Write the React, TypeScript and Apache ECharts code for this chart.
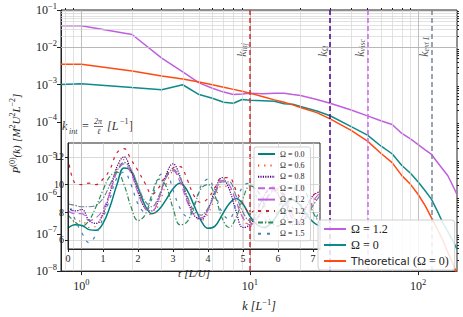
import React, { useEffect, useRef } from "react";
import * as echarts from "echarts";

// ---------- main spectrum data ----------
const kValues = [0.757, 1, 2, 3, 4, 5, 6, 7, 8, 9, 10, 12, 14, 16, 18, 20, 25, 30, 40, 50, 60, 70, 80, 90, 100, 110, 120, 130, 140, 150, 160, 170];
const spectrumOmega12 = [3.8e-2, 3.8e-2, 2.2e-2, 5.1e-3, 2.2e-3, 1.11e-3, 8.0e-4, 6.3e-4, 5.4e-4, 5.6e-4, 5.9e-4, 5.7e-4, 5.9e-4, 5.9e-4, 5.4e-4, 5.1e-4, 4.0e-4, 3.16e-4, 2.08e-4, 1.45e-4, 1.07e-4, 8.5e-5, 4.9e-5, 3.5e-5, 2.46e-5, 1.78e-5, 1.34e-5, 8.3e-6, 5.4e-6, 3.6e-6, 2.0e-6, 1.13e-6];
const spectrumOmega0 = [1.0e-3, 1.05e-3, 8.3e-4, 7.3e-4, 9.9e-4, 5.4e-4, 4.3e-4, 3.36e-4, 3.16e-4, 4.0e-4, 3.8e-4, 3.7e-4, 3.56e-4, 3.07e-4, 2.98e-4, 2.58e-4, 1.96e-4, 1.46e-4, 7.5e-5, 4.4e-5, 2.26e-5, 1.4e-5, 6.8e-6, 4.2e-6, 2.46e-6, 1.43e-6, 8.4e-7, 4.07e-7, 1.98e-7, 1.15e-7, 6.7e-8, 3.9e-8];
const spectrumTheory = [3.5e-3, 3.5e-3, 2.3e-3, 1.71e-3, 1.42e-3, 1.17e-3, 9.9e-4, 8.5e-4, 7.45e-4, 6.65e-4, 5.9e-4, 4.75e-4, 3.9e-4, 3.36e-4, 2.86e-4, 2.44e-4, 1.77e-4, 1.21e-4, 5.9e-5, 3.05e-5, 1.44e-5, 8.1e-6, 3.63e-6, 2.12e-6, 1.13e-6, 5.66e-7, 2.67e-7, 1.34e-7, 6.7e-8, 3.18e-8, 1.64e-8, 8.3e-9];

const xMin = 0.757;
const xMax = 170;
const yMin = 1e-8;
const yMax = 1e-1;
const majorX = [1, 10, 100];
const minorX = [0.8, 0.9, 2, 3, 4, 5, 6, 7, 8, 9, 20, 30, 40, 50, 60, 70, 80, 90];
const majorY = [1e-8, 1e-7, 1e-6, 1e-5, 1e-4, 1e-3, 1e-2, 1e-1];

// characteristic wavenumbers
const markerNames = ["inj", "Ω", "visc", "ext L"];
const markerK = [10, 30, 50, 120];
const markerColors = ["#d03030", "#4b0082", "#cc66ee", "#778899"];
const markerLabelP = 5.6e-3;

// ---------- inset time series ----------
const tValues = [0, 0.2, 0.4, 0.6, 0.8, 1.0, 1.2, 1.4, 1.6, 1.8, 2.0, 2.2, 2.4, 2.6, 2.8, 3.0, 3.2, 3.4, 3.6, 3.8, 4.0, 4.2, 4.4, 4.6, 4.8, 5.0, 5.2, 5.4, 5.6, 5.8, 6.0, 6.2, 6.4, 6.6, 6.8, 7.0, 7.2];
const insetNames = ["Ω = 0.0", "Ω = 0.6", "Ω = 0.8", "Ω = 1.0", "Ω = 1.2", "Ω = 1.2 ", "Ω = 1.3", "Ω = 1.5"];
const insetOmega00 = [6.85, 7.1, 7.05, 6.75, 6.7, 7.2, 8.4, 10.0, 11.2, 11.0, 9.8, 8.5, 7.9, 8.2, 8.9, 9.7, 10.1, 9.6, 8.5, 7.4, 6.85, 7.0, 7.8, 8.6, 9.0, 8.6, 7.7, 7.1, 6.9, 7.2, 7.9, 8.6, 8.9, 8.6, 7.9, 7.3, 7.0];
const insetOmega06 = [7.6, 7.3, 7.4, 6.9, 7.0, 7.9, 9.6, 11.2, 11.8, 11.1, 9.6, 8.3, 7.8, 8.6, 10.0, 10.9, 10.5, 9.1, 7.9, 7.4, 7.9, 9.0, 9.9, 9.8, 8.8, 7.6, 7.0, 7.4, 8.5, 9.4, 9.5, 8.6, 7.5, 7.1, 7.7, 8.7, 9.3];
const insetOmega08 = [8.3, 8.1, 8.2, 7.4, 7.2, 7.9, 9.4, 11.3, 12.0, 11.0, 9.5, 8.3, 8.1, 9.0, 10.7, 11.5, 10.6, 9.0, 7.8, 7.5, 8.2, 9.6, 10.5, 9.7, 8.1, 6.9, 7.1, 8.0, 9.2, 9.8, 9.3, 8.0, 7.1, 7.3, 8.3, 9.2, 9.5];
const insetOmega10 = [8.1, 7.9, 7.9, 7.4, 7.6, 8.2, 9.4, 10.9, 11.5, 10.8, 9.4, 8.3, 8.1, 9.0, 10.5, 11.0, 10.2, 8.8, 7.8, 7.6, 8.2, 9.4, 10.3, 10.0, 8.8, 7.6, 7.1, 7.5, 8.6, 9.5, 9.6, 8.7, 7.6, 7.2, 7.7, 8.8, 9.4];
const insetOmega12a = [8.6, 8.5, 8.4, 8.4, 8.5, 9.0, 10.0, 11.0, 11.6, 11.1, 9.9, 8.8, 8.4, 9.2, 10.5, 11.1, 10.5, 9.2, 8.1, 7.8, 8.3, 9.3, 10.2, 10.2, 9.2, 8.0, 7.4, 7.6, 8.5, 9.4, 9.7, 9.0, 7.9, 7.3, 7.6, 8.5, 9.2];
const insetOmega12b = [12.0, 10.1, 10.0, 10.1, 10.0, 10.4, 11.1, 12.3, 12.6, 11.8, 11.0, 10.1, 9.3, 9.8, 10.7, 11.2, 11.3, 10.4, 9.2, 8.7, 9.0, 9.8, 10.5, 10.5, 9.6, 8.6, 8.0, 8.3, 9.1, 9.8, 9.9, 9.2, 8.4, 8.0, 8.4, 9.2, 9.6];
const insetOmega13 = [7.8, 7.3, 7.0, 7.4, 8.4, 9.6, 10.6, 10.9, 10.0, 8.4, 7.4, 7.8, 9.3, 10.4, 9.9, 8.3, 7.1, 7.3, 8.4, 9.7, 10.0, 9.2, 7.6, 6.9, 7.6, 9.0, 9.9, 9.6, 8.6, 7.3, 7.0, 7.8, 9.2, 10.0, 9.4, 8.0, 7.2];
const insetOmega15 = [8.9, 7.5, 6.5, 5.8, 6.4, 7.6, 9.0, 10.5, 10.9, 10.0, 8.6, 8.0, 9.0, 10.6, 10.9, 9.6, 8.3, 7.7, 8.5, 9.9, 10.4, 9.4, 8.0, 7.5, 8.6, 9.9, 10.1, 9.0, 7.6, 7.2, 8.2, 9.5, 9.9, 9.0, 7.7, 7.4, 8.3];
const insetSeries = [insetOmega00, insetOmega06, insetOmega08, insetOmega10, insetOmega12a, insetOmega12b, insetOmega13, insetOmega15];
const insetColors = ["#008080", "#ff4500", "#4b0082", "#c060e0", "#708090", "#d02030", "#2e8b57", "#4682b4"];
const insetDash: (string | number[])[] = ["solid", [1.2, 5], [1.2, 1.2], [7, 4], [6, 1.5, 1.5, 1.5], [3, 5], [5, 2, 1.2, 2], [3, 6]];
const insetXTicks = [0, 1, 2, 3, 4, 5, 6, 7];
const insetYTicks = [6, 8, 10, 12];
const insetXMin = 0;
const insetXMax = 7.2;
const insetYMin = 5.35;
const insetYMax = 13;

const SERIF = "'Liberation Serif', 'DejaVu Serif', serif";
const SANS = "'DejaVu Sans', 'Liberation Sans', sans-serif";

function powLabel(v: number) {
  const e = Math.round(Math.log10(v));
  return "{b|10}{s|" + (e < 0 ? "−" + -e : String(e)) + "}";
}
const powRich = {
  b: { fontFamily: SERIF, fontSize: 12, color: "#222" },
  s: { fontFamily: SERIF, fontSize: 8.5, color: "#222", padding: [0, 0, 9, 0] },
};

export default function App() {
  const ref = useRef<HTMLDivElement>(null);
  useEffect(() => {
    if (!ref.current) return;
    const chart = echarts.init(ref.current, undefined, { renderer: "svg" });

    const mainPairs = (vals: number[]) => kValues.map((k, i) => [k, vals[i]]);
    const gridLineData: any[] = [];
    minorX.filter((v) => v > xMin && v < xMax).forEach((v) => gridLineData.push({ xAxis: v, lineStyle: { color: "#d6d6d6", width: 0.7, type: "solid", opacity: 1 } }));
    majorY.forEach((v, i) => {
      if (i < majorY.length - 1) {
        for (let m = 2; m <= 9; m++) gridLineData.push({ yAxis: v * m, lineStyle: { color: "#d6d6d6", width: 0.7, type: "solid", opacity: 1 } });
      }
    });
    majorX.forEach((v) => gridLineData.push({ xAxis: v, lineStyle: { color: "#b0b0b0", width: 0.8, type: "solid", opacity: 1 } }));
    majorY.slice(1, -1).forEach((v) => gridLineData.push({ yAxis: v, lineStyle: { color: "#b0b0b0", width: 0.8, type: "solid", opacity: 1 } }));
    const minorYTicks: number[] = [];
    majorY.slice(0, -1).forEach((v) => { for (let m = 2; m <= 9; m++) minorYTicks.push(v * m); });

    const insetGridLines: any[] = [];
    insetXTicks.slice(1).forEach((v) => insetGridLines.push({ xAxis: v }));
    insetYTicks.forEach((v) => insetGridLines.push({ yAxis: v }));

    const markerLabels = markerNames.map((n, i) => ({
      value: [markerK[i], markerLabelP],
      label: {
        show: true,
        position: [-1, 0],
        rotate: 90,
        align: "left",
        verticalAlign: "bottom",
        formatter: "{k|k}{sub|" + n + "}",
        rich: {
          k: { fontFamily: SERIF, fontStyle: "italic", fontSize: 12, color: "#333" },
          sub: { fontFamily: SERIF, fontStyle: "italic", fontSize: 8, color: "#333", padding: [5, 0, 0, 0] },
        },
      },
    }));

    const legendIconOff = { opacity: 0 };

    const option: any = {
      animation: false,
      backgroundColor: "#fff",
      grid: [
        { left: 49, top: 10, right: 6, bottom: 38, show: true, borderColor: "#222", borderWidth: 1, z: 0 },
        { left: 68, top: 143, width: 252, height: 106, show: true, backgroundColor: "#fff", borderColor: "#222", borderWidth: 1, z: 5 },
      ],
      xAxis: [
        {
          type: "log", gridIndex: 0, min: xMin, max: xMax, logBase: 10,
          axisLine: { show: true, onZero: false, lineStyle: { color: "#222" } },
          axisTick: { show: true, inside: false, length: 4, customValues: majorX, lineStyle: { color: "#222" } },
          axisLabel: { show: true, customValues: majorX, formatter: powLabel, rich: powRich, margin: 6 },
          splitLine: { show: false },
          name: "{k|k} {t|[L}{s|−1}{t|]}", nameLocation: "middle", nameGap: 22,
          nameTextStyle: {
            rich: {
              k: { fontFamily: SERIF, fontStyle: "italic", fontSize: 12, color: "#222" },
              t: { fontFamily: SERIF, fontStyle: "italic", fontSize: 12, color: "#222" },
              s: { fontFamily: SERIF, fontSize: 8.5, color: "#222", padding: [0, 0, 9, 0] },
            },
          },
        },
        {
          type: "log", gridIndex: 0, min: xMin, max: xMax, logBase: 10,
          axisLine: { show: false },
          axisTick: { show: true, inside: false, length: 2, customValues: minorX, lineStyle: { color: "#222" } },
          axisLabel: { show: false },
          splitLine: { show: false },
        },
        {
          type: "value", gridIndex: 1, min: insetXMin, max: insetXMax, z: 8,
          axisLine: { show: true, onZero: false, lineStyle: { color: "#222" } },
          axisTick: { show: true, length: 3, customValues: insetXTicks, lineStyle: { color: "#222" } },
          axisLabel: { show: true, customValues: insetXTicks, fontFamily: SERIF, fontSize: 10, color: "#222", margin: 4 },
          splitLine: { show: false },
          name: "{t|t} {u|[L/U]}", nameLocation: "middle", nameGap: 18,
          nameTextStyle: {
            rich: {
              t: { fontFamily: SERIF, fontStyle: "italic", fontSize: 11, color: "#222" },
              u: { fontFamily: SERIF, fontStyle: "italic", fontSize: 11, color: "#222" },
            },
          },
        },
      ],
      yAxis: [
        {
          type: "log", gridIndex: 0, min: yMin, max: yMax, logBase: 10,
          axisLine: { show: true, onZero: false, lineStyle: { color: "#222" } },
          axisTick: { show: true, length: 4, customValues: majorY, lineStyle: { color: "#222" } },
          axisLabel: { show: true, customValues: majorY, formatter: powLabel, rich: powRich, margin: 4 },
          splitLine: { show: false },
          name: "{p|P}{s|(0)}{p|(k)} {p|[M}{s|2}{p|U}{s|2}{p|L}{s|−2}{p|]}",
          nameLocation: "middle", nameRotate: 90, nameGap: 37,
          nameTextStyle: {
            padding: [0, 0, 0, 14],
            rich: {
              p: { fontFamily: SERIF, fontStyle: "italic", fontSize: 11, color: "#222" },
              s: { fontFamily: SERIF, fontSize: 8, color: "#222", padding: [0, 0, 8, 0] },
            },
          },
        },
        {
          type: "log", gridIndex: 0, min: yMin, max: yMax, logBase: 10,
          axisLine: { show: false },
          axisTick: { show: true, length: 2, customValues: minorYTicks, lineStyle: { color: "#222" } },
          axisLabel: { show: false },
          splitLine: { show: false },
        },
        {
          type: "value", gridIndex: 1, min: insetYMin, max: insetYMax, z: 8,
          axisLine: { show: true, onZero: false, lineStyle: { color: "#222" } },
          axisTick: { show: true, length: 3, customValues: insetYTicks, lineStyle: { color: "#222" } },
          axisLabel: { show: true, customValues: insetYTicks, fontFamily: SERIF, fontSize: 10, color: "#222", margin: 4 },
          splitLine: { show: false },
        },
      ],
      legend: [
        {
          data: ["Ω = 1.2", "Ω = 0", "Theoretical"],
          orient: "vertical", left: 318, top: 220, itemWidth: 22, itemHeight: 12, itemGap: 4,
          padding: [3, 6, 3, 5],
          backgroundColor: "rgba(255,255,255,0.85)", borderColor: "#d0d0d0", borderWidth: 1, borderRadius: 3,
          z: 20, itemStyle: legendIconOff,
          formatter: (name: string) => (name === "Theoretical" ? "{a|Theoretical} {m|(Ω = 0)}" : "{m|" + name + "}"),
          textStyle: {
            rich: {
              a: { fontFamily: SANS, fontSize: 10.5, color: "#222" },
              m: { fontFamily: SERIF, fontSize: 12, color: "#222" },
            },
          },
        },
        {
          data: insetNames,
          orient: "vertical", left: 254, top: 147, itemWidth: 17, itemHeight: 8, itemGap: 3.4,
          padding: [3, 4, 3, 3],
          backgroundColor: "rgba(255,255,255,0.8)", borderColor: "#d0d0d0", borderWidth: 1, borderRadius: 2,
          z: 15, itemStyle: legendIconOff,
          textStyle: { fontFamily: SERIF, fontSize: 8, color: "#222" },
        },
      ],
      graphic: [
        {
          type: "group", left: 62, top: 117, z: 4,
          children: [
            { type: "text", x: 0, y: 3, style: { text: "k", font: "italic 12px " + SERIF, fill: "#333" } },
            { type: "text", x: 7, y: 10, style: { text: "int", font: "italic 8px " + SERIF, fill: "#333" } },
            { type: "text", x: 20, y: 3, style: { text: "=", font: "12px " + SERIF, fill: "#333" } },
            { type: "text", x: 32, y: 0, style: { text: "2π", font: "italic 8px " + SERIF, fill: "#333" } },
            { type: "line", shape: { x1: 32, y1: 9.5, x2: 41, y2: 9.5 }, style: { stroke: "#333", lineWidth: 0.7 } },
            { type: "text", x: 35, y: 10, style: { text: "ℓ", font: "italic 8px " + SERIF, fill: "#333" } },
            { type: "text", x: 45, y: 3, style: { text: "[L", font: "italic 12px " + SERIF, fill: "#333" } },
            { type: "text", x: 58, y: 0, style: { text: "−1", font: "8px " + SERIF, fill: "#333" } },
            { type: "text", x: 67, y: 3, style: { text: "]", font: "12px " + SERIF, fill: "#333" } },
          ],
        },
      ],
      series: [
        {
          type: "line", xAxisIndex: 0, yAxisIndex: 0, data: [[1, 1e-3]], symbol: "none", silent: true, z: 1,
          markLine: { silent: true, symbol: "none", label: { show: false }, data: gridLineData, animation: false },
        },
        { name: "Ω = 1.2", type: "line", xAxisIndex: 0, yAxisIndex: 0, data: mainPairs(spectrumOmega12), symbol: "none", lineStyle: { color: "#bf5fdf", width: 1.5 }, itemStyle: { color: "#bf5fdf" }, z: 2 },
        { name: "Ω = 0", type: "line", xAxisIndex: 0, yAxisIndex: 0, data: mainPairs(spectrumOmega0), symbol: "none", lineStyle: { color: "#0e8a8a", width: 1.5 }, itemStyle: { color: "#0e8a8a" }, z: 2 },
        { name: "Theoretical", type: "line", xAxisIndex: 0, yAxisIndex: 0, data: mainPairs(spectrumTheory), symbol: "none", lineStyle: { color: "#ff4a10", width: 1.5 }, itemStyle: { color: "#ff4a10" }, z: 2 },
        {
          type: "scatter", xAxisIndex: 0, yAxisIndex: 0, symbolSize: 0, silent: true, z: 3,
          data: markerLabels,
          markLine: {
            silent: true, symbol: "none", label: { show: false },
            data: markerK.map((k, i) => ({ xAxis: k, lineStyle: { color: markerColors[i], width: 1.5, type: [5, 3] } })),
          },
        },
        {
          type: "line", xAxisIndex: 2, yAxisIndex: 2, data: [[0, 8]], symbol: "none", silent: true, z: 6,
          markLine: { silent: true, symbol: "none", label: { show: false }, lineStyle: { color: "#cfcfcf", width: 0.8, type: "solid" }, data: insetGridLines },
        },
        ...insetSeries.map((vals, i) => ({
          name: insetNames[i], type: "line", xAxisIndex: 2, yAxisIndex: 2,
          data: tValues.map((t, j) => [t, vals[j]]), symbol: "none", smooth: 0.4,
          lineStyle: { color: insetColors[i], width: i === 0 ? 1.5 : 1.2, type: insetDash[i] },
          itemStyle: { color: insetColors[i] }, z: 7,
        })),
      ],
    };
    chart.setOption(option);
    return () => chart.dispose();
  }, []);
  return <div ref={ref} style={{ position: "fixed", left: 0, top: 0, width: 463, height: 317 }} />;
}
